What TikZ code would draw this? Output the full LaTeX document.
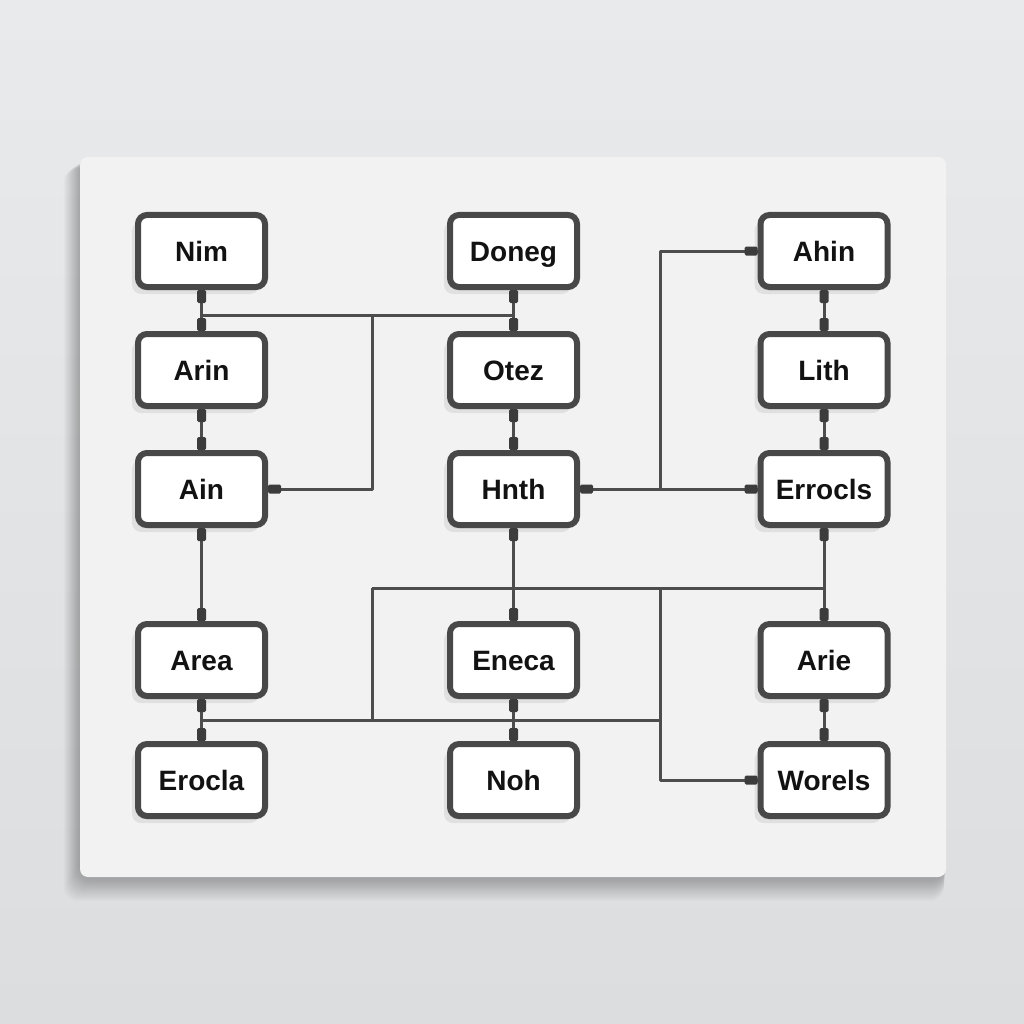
\documentclass[tikz,border=0pt]{standalone}
\usepackage{fontspec}
\setmainfont{Liberation Sans}
\usetikzlibrary{shadows}
\definecolor{bgtop}{HTML}{E9EAEB}
\definecolor{bgbot}{HTML}{DCDDDF}
\definecolor{boardc}{HTML}{F2F2F2}
\definecolor{boxc}{HTML}{484848}
\definecolor{wirec}{HTML}{4D4D4D}
\definecolor{plugc}{HTML}{3C3C3C}
\definecolor{txtc}{HTML}{121212}
\begin{document}
\begin{tikzpicture}[x=1pt,y=-1pt,
  box/.style={draw=boxc, line width=6pt, fill=white, rounded corners=9pt,
    minimum width=127pt, minimum height=72pt, inner sep=0pt,
    text height=20pt, text depth=0pt,
    font=\fontsize{28}{32}\selectfont\bfseries, text=txtc,
    general shadow={shadow xshift=-2pt, shadow yshift=-3pt, opacity=.14, fill=black},
    general shadow={shadow xshift=-6pt, shadow yshift=-7pt, opacity=.07, fill=black}},
  wire/.style={draw=wirec, line width=3pt, line join=round},
  pics/pdown/.style={code={\fill[plugc, rounded corners=1.5pt] (-4.5,0) rectangle (4.5,13);}},
  pics/pup/.style={code={\fill[plugc, rounded corners=1.5pt] (-4.5,0) rectangle (4.5,-13);}},
  pics/pright/.style={code={\fill[plugc, rounded corners=1.5pt] (0,-4.5) rectangle (13,4.5);}},
  pics/pleft/.style={code={\fill[plugc, rounded corners=1.5pt] (0,-4.5) rectangle (-13,4.5);}}
]
\useasboundingbox (0,0) rectangle (1024,1024);
\shade[top color=bgtop, bottom color=bgbot] (0,0) rectangle (1024,1024);

% board shadow
\foreach \s in {1,2,...,22} {
  \fill[black, opacity=0.012, rounded corners=14pt] (80-\s*0.75,157+\s*0.5) rectangle (946-\s*0.1,877+\s*1.1);
}
\fill[boardc, rounded corners=8pt] (80,157) rectangle (946,877);

% nodes
\node[box] (nim)     at (201.5,251) {Nim};
\node[box] (arin)    at (201.5,370) {Arin};
\node[box] (ain)     at (201.5,489) {Ain};
\node[box] (area)    at (201.5,660) {Area};
\node[box] (erocla)  at (201.5,780) {Erocla};
\node[box] (doneg)   at (513.5,251) {Doneg};
\node[box] (otez)    at (513.5,370) {Otez};
\node[box] (hnth)    at (513.5,489) {Hnth};
\node[box] (eneca)   at (513.5,660) {Eneca};
\node[box] (noh)     at (513.5,780) {Noh};
\node[box] (ahin)    at (824,251) {Ahin};
\node[box] (lith)    at (824,370) {Lith};
\node[box] (errocls) at (824,489) {Errocls};
\node[box] (arie)    at (824,660) {Arie};
\node[box] (worels)  at (824,780) {Worels};

% junction points
\coordinate (ja) at (201.5,315);
\coordinate (jb) at (513.5,315);
\coordinate (jc) at (372,315);
\coordinate (jd) at (660,489);
\coordinate (je) at (372,588);
\coordinate (jf) at (824,588);
\coordinate (jg) at (372,720);
\coordinate (jh) at (201.5,720);
\coordinate (ji) at (660,720);
\coordinate (jj) at (660,588);

% vertical chains
\draw[wire] (nim) -- (arin);
\draw[wire] (arin) -- (ain);
\draw[wire] (ain) -- (area);
\draw[wire] (area) -- (erocla);
\draw[wire] (doneg) -- (otez);
\draw[wire] (otez) -- (hnth);
\draw[wire] (hnth) -- (eneca);
\draw[wire] (eneca) -- (noh);
\draw[wire] (ahin) -- (lith);
\draw[wire] (lith) -- (errocls);
\draw[wire] (errocls) -- (arie);
\draw[wire] (arie) -- (worels);

% cross links
\draw[wire] (ja) -- (jb);
\draw[wire] (jc) |- (ain.east);
\draw[wire] (hnth.east) -- (errocls.west);
\draw[wire] (jd) |- (ahin.west);
\draw[wire] (je) -- (jf);
\draw[wire] (je) -- (jg);
\draw[wire] (jh) -- (ji);
\draw[wire] (jj) |- (worels.west);

% plugs
\foreach \a/\b in {nim/arin, arin/ain, ain/area, area/erocla,
                   doneg/otez, otez/hnth, hnth/eneca, eneca/noh,
                   ahin/lith, lith/errocls, errocls/arie, arie/worels} {
  \pic at (\a.south) {pdown};
  \pic at (\b.north) {pup};
}
\pic at (ain.east) {pright};
\pic at (hnth.east) {pright};
\pic at (errocls.west) {pleft};
\pic at (ahin.west) {pleft};
\pic at (worels.west) {pleft};
\end{tikzpicture}
\end{document}
